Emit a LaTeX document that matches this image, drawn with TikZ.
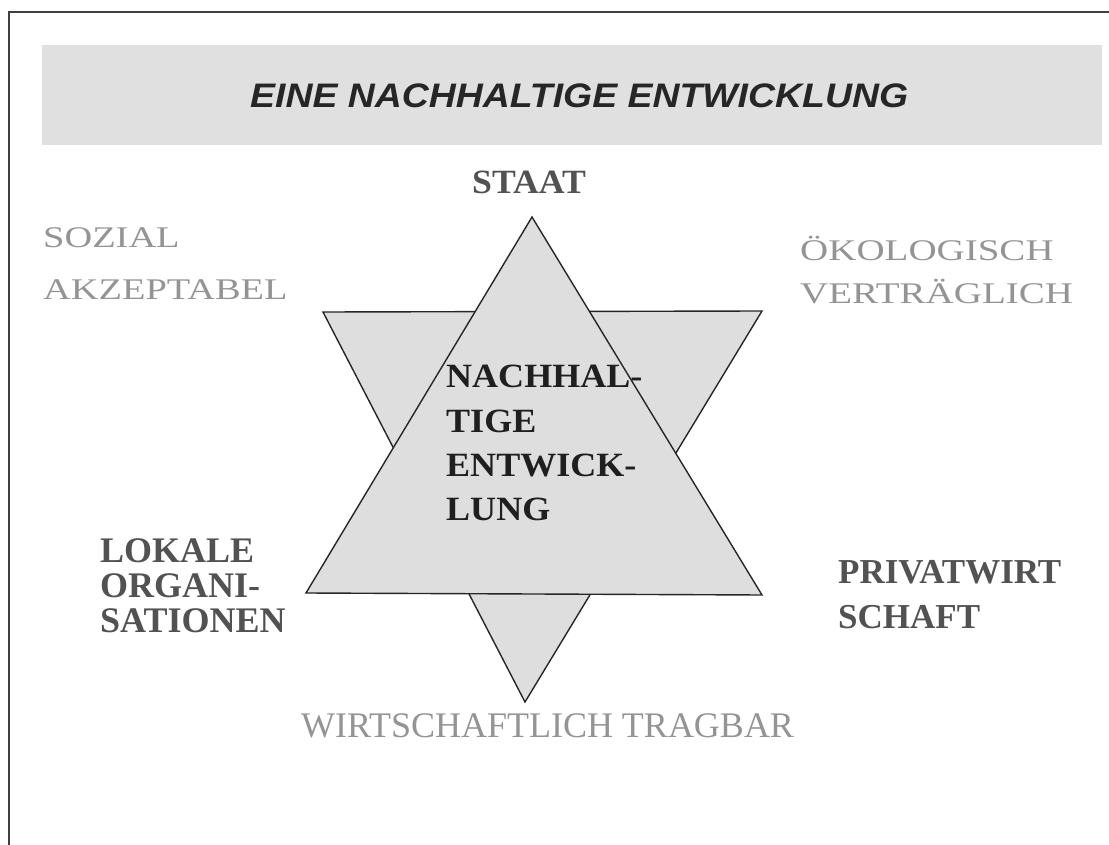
\documentclass[tikz,border=0pt]{standalone}
\usepackage{fontspec}
\setmainfont{Liberation Serif}
\newfontfamily\sansf{Liberation Sans}
\tikzset{
  lbl/.style={inner sep=0pt, anchor=base west},
  lighttxt/.style={lbl, text=black!42, font=\fontsize{30}{30}\selectfont},
  darktxt/.style={lbl, text=black!68, font=\bfseries\fontsize{36}{36}\selectfont},
  centertxt/.style={lbl, text=black!88, font=\bfseries\fontsize{34}{34}\selectfont},
  tri/.style={draw=black!85, line width=1.4pt, fill=black!13, line join=miter},
  frame/.style={draw=black!75, line width=2pt},
}
\begin{document}
\begin{tikzpicture}[x=1pt,y=-1pt]
\useasboundingbox (0,0) rectangle (1109,845);
% frame
\coordinate (fbl) at (9,845);
\coordinate (ftl) at (9,12);
\coordinate (ftr) at (1109,12);
\draw[frame] (fbl) -- (ftl) -- (ftr);
% header band
\node[fill=black!12, inner sep=0pt, minimum width=1060pt, minimum height=100pt] (band) at (572,95) {};
\node[lbl, text=black!85, font=\sansf\bfseries\itshape\fontsize{34}{34}\selectfont] (title) at (250,108) {\scalebox{1.10}[1]{EINE NACHHALTIGE ENTWICKLUNG}};
% star
\coordinate (dl) at (323,312);
\coordinate (dr) at (762,311);
\coordinate (db) at (525,702);
\coordinate (ut) at (532,217);
\coordinate (ul) at (306,593);
\coordinate (ur) at (762,595);
\draw[tri] (dl) -- (dr) -- (db) -- cycle;
\draw[tri] (ut) -- (ul) -- (ur) -- cycle;
% labels
\node[darktxt, font=\bfseries\fontsize{34}{34}\selectfont] (staat) at (472,194) {\scalebox{1.05}[1]{STAAT}};
\node[lighttxt] (soz1) at (43,248) {\scalebox{1.28}[1]{SOZIAL}};
\node[lighttxt] (soz2) at (43,300) {\scalebox{1.28}[1]{AKZEPTABEL}};
\node[lighttxt] (oek1) at (800,261) {\scalebox{1.30}[1]{ÖKOLOGISCH}};
\node[lighttxt] (oek2) at (800,303) {\scalebox{1.30}[1]{VERTRÄGLICH}};
\node[centertxt] (nh1) at (446,387) {\scalebox{1.06}[1]{NACHHAL-}};
\node[centertxt] (nh2) at (446,432) {\scalebox{1.06}[1]{TIGE}};
\node[centertxt] (nh3) at (446,476) {\scalebox{1.06}[1]{ENTWICK-}};
\node[centertxt] (nh4) at (446,520) {\scalebox{1.06}[1]{LUNG}};
\node[darktxt] (lok1) at (100,562) {LOKALE};
\node[darktxt] (lok2) at (100,597) {ORGANI-};
\node[darktxt] (lok3) at (100,632) {SATIONEN};
\node[darktxt, font=\bfseries\fontsize{35}{35}\selectfont] (pw1) at (838,583) {PRIVATWIRT};
\node[darktxt, font=\bfseries\fontsize{35}{35}\selectfont] (pw2) at (838,628) {SCHAFT};
\node[lighttxt, font=\fontsize{36}{36}\selectfont] (wt) at (301,737) {WIRTSCHAFTLICH TRAGBAR};
\end{tikzpicture}
\end{document}
